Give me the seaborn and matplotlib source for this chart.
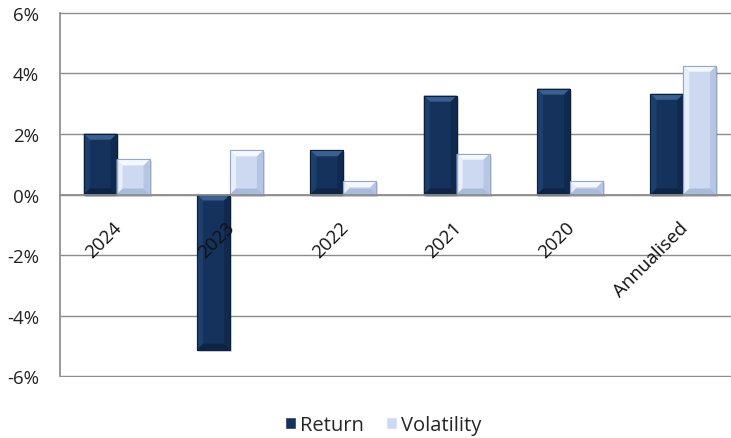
import matplotlib
matplotlib.use("Agg")
import matplotlib.pyplot as plt
import matplotlib.transforms as mtransforms
from matplotlib.patches import Polygon
import seaborn as sns
import pandas as pd
from matplotlib.ticker import FuncFormatter, FixedLocator

categories = ["2024", "2023", "2022", "2021", "2020", "Annualised"]
returns = [2.01, -5.13, 1.46, 3.27, 3.50, 3.33]
volatility = [1.16, 1.46, 0.44, 1.35, 0.44, 4.26]
series_names = ["Return", "Volatility"]
y_ticks = [-6, -4, -2, 0, 2, 4, 6]

df = pd.DataFrame({
    "Category": categories * 2,
    "Value": returns + volatility,
    "Series": [series_names[0]] * len(categories) + [series_names[1]] * len(categories),
})

sns.set_theme(style="white")
plt.rcParams["font.family"] = ["Open Sans", "DejaVu Sans"]

fig = plt.figure(figsize=(7.31, 4.39), dpi=100)
ax = fig.add_axes([60 / 731, 1 - 378 / 439, 680 / 731, (378 - 13) / 439])

palette = {"Return": "#14325c", "Volatility": "#cdd9f1"}
sns.barplot(data=df, x="Category", y="Value", hue="Series", order=categories,
            hue_order=series_names, palette=palette, width=0.58, gap=0,
            saturation=1, ax=ax, legend=True)

ax.set_ylim(-6.033, 6.033)
ax.set_xlim(-0.5, len(categories) - 0.5)

bevel_cols = {
    "Return": dict(edge="#0b1f3b", top="#3b6090", left="#1d3f6c", right="#0f2a4e", bottom="#0d2444"),
    "Volatility": dict(edge="#95a8cc", top="#f5f8fd", left="#e8eefa", right="#b6c5e4", bottom="#a9badb"),
}
fig.canvas.draw()
to_px = ax.transData
from_px = ax.transData.inverted()
bar_patches = list(ax.patches)[: 2 * len(categories)]
for idx, patch in enumerate(bar_patches):
    name = series_names[idx // len(categories)]
    c = bevel_cols[name]
    patch.set_edgecolor(c["edge"])
    patch.set_linewidth(0.8)
    patch.set_zorder(2)
    x0, y0 = patch.get_x(), patch.get_y()
    w, h = patch.get_width(), patch.get_height()
    (px0, py0) = to_px.transform((x0, min(y0, y0 + h)))
    (px1, py1) = to_px.transform((x0 + w, max(y0, y0 + h)))
    b = min(6, (py1 - py0) / 2, (px1 - px0) / 2)
    outer = [(px0, py0), (px1, py0), (px1, py1), (px0, py1)]
    inner = [(px0 + b, py0 + b), (px1 - b, py0 + b), (px1 - b, py1 - b), (px0 + b, py1 - b)]
    faces = [
        ([outer[0], outer[3], inner[3], inner[0]], c["left"]),
        ([outer[1], outer[2], inner[2], inner[1]], c["right"]),
        ([outer[0], outer[1], inner[1], inner[0]], c["bottom"]),
        ([outer[3], outer[2], inner[2], inner[3]], c["top"]),
    ]
    for pts, col in faces:
        data_pts = from_px.transform(pts)
        ax.add_patch(Polygon(data_pts, closed=True, facecolor=col, edgecolor="none",
                             zorder=2.1))
    edge = plt.Rectangle((x0, y0), w, h, facecolor="none", edgecolor=c["edge"],
                         linewidth=0.8, zorder=2.2)
    ax.add_patch(edge)
    sh = mtransforms.offset_copy(ax.transData, fig=fig, x=2, y=-2, units="dots")
    shadow = plt.Rectangle((x0, y0), w, h, transform=sh, facecolor="#000000",
                           alpha=0.12, edgecolor="none", zorder=1.9)
    ax.add_patch(shadow)

ax.yaxis.set_major_locator(FixedLocator(y_ticks))
ax.yaxis.set_major_formatter(FuncFormatter(lambda v, p: f"{v:.0f}%"))
ax.grid(axis="y", color="#8c8c8c", linewidth=1)
ax.set_axisbelow(True)

for s in ["top", "right"]:
    ax.spines[s].set_visible(False)
ax.spines["left"].set_color("#8c8c8c")
ax.spines["left"].set_bounds(-6, 6)
ax.spines["bottom"].set_color("#8c8c8c")
ax.spines["bottom"].set_position(("data", 0))

ax.set_xlabel("")
ax.set_ylabel("")
ax.tick_params(axis="y", length=0, pad=15, labelsize=13.5, labelcolor="#222222")
ax.set_xticks(range(len(categories)))
ax.set_xticklabels([])
ax.tick_params(axis="x", which="major", length=0)
ax.set_xticks([i + 0.5 for i in range(len(categories) - 1)], minor=True)
ax.tick_params(axis="x", which="minor", length=5, direction="out", color="#8c8c8c", width=1)

lab_tr = mtransforms.offset_copy(ax.transData, fig=fig, x=2, y=-30, units="dots")
for i, cat in enumerate(categories):
    ax.text(i, 0, cat, transform=lab_tr, rotation=45, ha="right", va="center",
            rotation_mode="anchor", fontsize=13.5, color="#111111", zorder=10)

handles, labels = ax.get_legend_handles_labels()
ax.legend(handles, labels, loc="center", bbox_to_anchor=(383 / 731, 1 - 426 / 439),
          bbox_transform=fig.transFigure, ncol=2, frameon=False, fontsize=14.5,
          handlelength=0.55, handleheight=0.55, handletextpad=0.2, columnspacing=1.1)

fig.savefig("out.png", dpi=100)
